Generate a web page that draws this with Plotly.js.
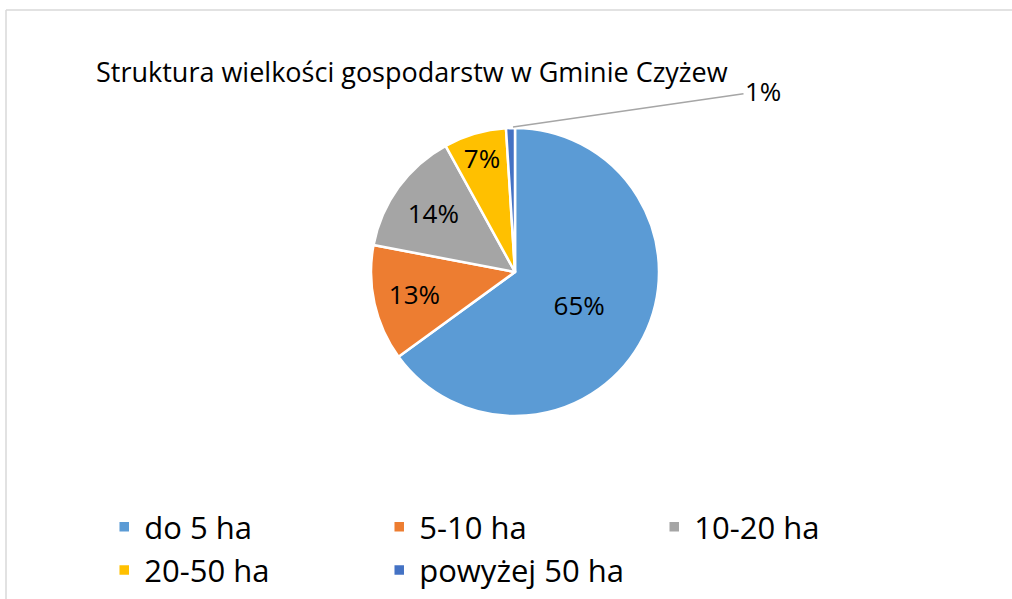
<!DOCTYPE html>
<html>
<head>
<meta charset="utf-8">
<script src="https://cdn.plot.ly/plotly-3.0.1.min.js"></script>
<style>html,body{margin:0;padding:0;background:#fff;}#chart{width:1012px;height:599px;}</style>
</head>
<body>
<div id="chart"></div>
<script>
const categories = ["do 5 ha", "5-10 ha", "10-20 ha", "20-50 ha", "powyżej 50 ha"];
const values = [65, 13, 14, 7, 1];
const colors = ["#5B9BD5", "#ED7D31", "#A5A5A5", "#FFC000", "#4472C4"];
const textPositions = ["inside", "inside", "inside", "inside", "none"];
const titleText = "Struktura wielkości gospodarstw w Gminie Czyżew";
const FONT = "'Open Sans', Carlito, Calibri, sans-serif";

const trace = {
  type: "pie",
  labels: categories,
  values: values,
  sort: false,
  direction: "clockwise",
  rotation: 0,
  marker: {colors: colors, line: {color: "#ffffff", width: 2.5}},
  texttemplate: "%{percent:.0%}",
  textposition: textPositions,
  insidetextorientation: "horizontal",
  textfont: {family: FONT, size: 26, color: "#000000"},
  hoverinfo: "label+percent",
  domain: {x: [0.3666, 0.6512], y: [0.3055, 0.7863]}
};

const layout = {
  width: 1012, height: 599,
  margin: {l: 0, r: 0, t: 0, b: 0},
  paper_bgcolor: "#ffffff",
  font: {family: FONT, color: "#000000"},
  title: {text: titleText, x: 96/1012, xanchor: "left", y: 1 - 73/599, yanchor: "middle",
          font: {family: FONT, size: 27, color: "#000000"}},
  showlegend: true,
  legend: {orientation: "h", x: 0.103, xanchor: "left", y: 1 - 500/599, yanchor: "top",
           entrywidth: 230, entrywidthmode: "pixels", traceorder: "normal",
           font: {family: FONT, size: 31, color: "#000000"}, bgcolor: "rgba(0,0,0,0)"},
  annotations: [{
    x: 513/1012, y: 1 - 127/599, xref: "paper", yref: "paper",
    text: "1%", showarrow: true, arrowhead: 0, arrowwidth: 1.5, arrowcolor: "#A6A6A6",
    ax: 250, ay: -36, font: {family: FONT, size: 26, color: "#000000"}
  }],
  shapes: [
    {type: "line", xref: "paper", yref: "paper", x0: 6/1012, x1: 1, y0: 1 - 10/599, y1: 1 - 10/599,
     line: {color: "#D9D9D9", width: 1.5}},
    {type: "line", xref: "paper", yref: "paper", x0: 6/1012, x1: 6/1012, y0: 0, y1: 1 - 10/599,
     line: {color: "#D9D9D9", width: 1.5}}
  ]
};

Plotly.newPlot("chart", [trace], layout, {displayModeBar: false, responsive: false});
</script>
</body>
</html>
